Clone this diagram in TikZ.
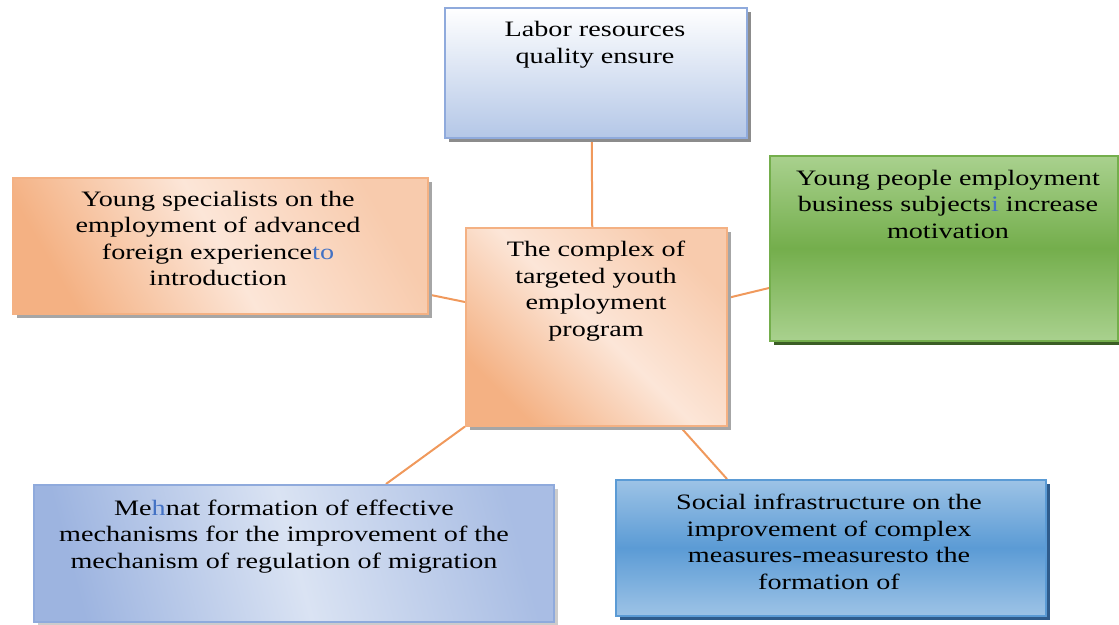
\documentclass[tikz,border=0pt]{standalone}
\usepackage{fontspec}
\setmainfont{Liberation Serif}[FakeStretch=1.28]
\usetikzlibrary{shadows,backgrounds,calc}
\definecolor{lbBorder}{HTML}{8FAADC}
\definecolor{lbBottom}{HTML}{B4C7E7}
\definecolor{orDark}{HTML}{F4B183}
\definecolor{orLight}{HTML}{FCE6D8}
\definecolor{orMid}{HTML}{F8CBAD}
\definecolor{grLight}{HTML}{A9D18E}
\definecolor{grDark}{HTML}{74AE4C}
\definecolor{grShadow}{HTML}{3B5E25}
\definecolor{blLight}{HTML}{DAE3F3}
\definecolor{blDark}{HTML}{9DB4E0}
\definecolor{blBorder}{HTML}{8FAADC}
\definecolor{brLight}{HTML}{9DC3E6}
\definecolor{brDark}{HTML}{5B9BD5}
\definecolor{brShadow}{HTML}{2F5C8C}
\definecolor{conn}{HTML}{F0995C}
\definecolor{hl}{HTML}{4472C4}
\tikzset{
  box/.style={draw, line width=1.5pt, anchor=north west, inner sep=0pt},
  txt/.style={anchor=base, align=center, inner sep=0pt, font={\fontsize{22}{26.5}\selectfont}},
  connector/.style={draw=conn, line width=2pt},
  shadowgray/.style={drop shadow={shadow xshift=4pt, shadow yshift=-4pt, fill=#1, opacity=1}},
}
\begin{document}
\begin{tikzpicture}[x=1pt,y=-1pt]
\useasboundingbox (0,0) rectangle (1119,624);
% boxes
\node[box, draw=lbBorder, top color=white, bottom color=lbBottom, shadowgray={black!45},
      minimum width=302pt, minimum height=130pt] (labor) at (444,7) {};
\node[box, draw=orDark, shadowgray={black!35}, minimum width=415pt, minimum height=136pt,
      top color=orMid, bottom color=orDark, middle color=orLight, shading angle=-60] (left) at (12,177) {};
\node[box, draw=grDark, top color=grLight, bottom color=grLight, middle color=grDark, shadowgray=grShadow,
      minimum width=348pt, minimum height=185pt] (green) at (769,155) {};
\node[box, draw=orDark, shadowgray={black!35}, minimum width=261pt, minimum height=198pt,
      top color=orMid, bottom color=orDark, middle color=orLight, shading angle=-45] (center) at (465,227) {};
\node[box, draw=blBorder, shadowgray={black!20}, minimum width=520pt, minimum height=137pt,
      top color=blDark!80!blLight, bottom color=blDark, middle color=blLight, shading angle=-75] (bl) at (33,484) {};
\node[box, draw=brDark, top color=brLight, bottom color=brLight, middle color=brDark, shadowgray=brShadow,
      minimum width=430pt, minimum height=136pt] (br) at (615,479) {};
% connectors
\begin{pgfonlayer}{background}
\draw[connector] ([xshift=-4pt]labor.south) -- ([xshift=-4pt]center.north);
\draw[connector] ($(left.south east)+(0,-20)$) -- ($(center.north west)+(0,75)$);
\draw[connector] ($(center.north east)+(0,71)$) -- ($(green.north west)+(0,133)$);
\draw[connector] (center.south west) -- ($(bl.north west)+(353,0)$);
\draw[connector] ($(center.south west)+(215,0)$) -- ($(br.north west)+(112,0)$);
\end{pgfonlayer}
% texts (base anchor = baseline of last line)
\node[txt] (tlabor) at (595,63) {Labor resources\\quality ensure};
\node[txt] (tleft) at (218,285.5) {Young specialists on the\\employment of advanced\\foreign experience\textcolor{hl}{to}\\introduction};
\node[txt] (tgreen) at (948,238) {Young people employment\\business subjects\textcolor{hl}{i} increase\\motivation};
\node[txt] (tcenter) at (596,336) {The complex of\\targeted youth\\employment\\program};
\node[txt] (tbl) at (284,568) {Me\textcolor{hl}{h}nat formation of effective\\mechanisms for the improvement of the\\mechanism of regulation of migration};
\node[txt] (tbr) at (829,589) {Social infrastructure on the\\improvement of complex\\measures-measuresto the\\formation of};
\end{tikzpicture}
\end{document}
